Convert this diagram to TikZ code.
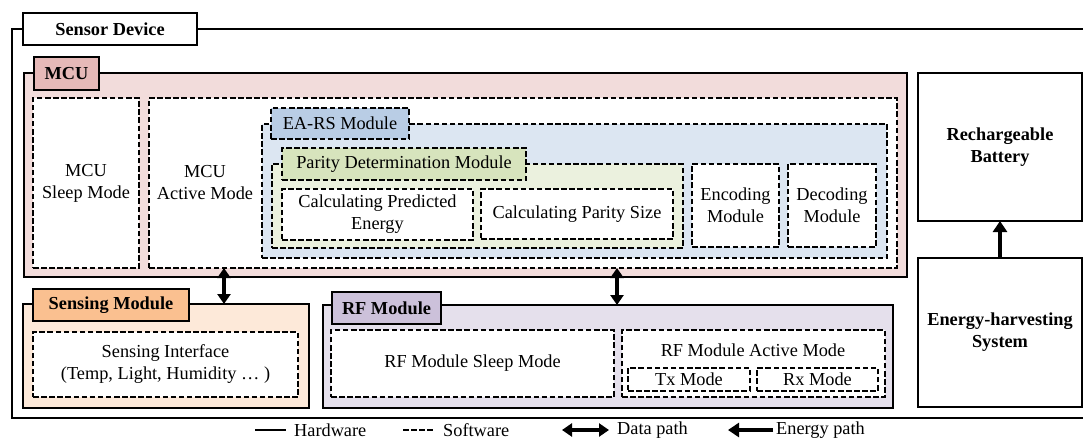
\documentclass[tikz,border=0pt]{standalone}
\usepackage{fontspec}
\setmainfont{Liberation Serif}
\usetikzlibrary{arrows.meta}
\definecolor{mcuF}{HTML}{F2DCDB}
\definecolor{mcuL}{HTML}{E6B9B8}
\definecolor{easF}{HTML}{DCE6F2}
\definecolor{easL}{HTML}{B9CDE5}
\definecolor{parF}{HTML}{EBF1DE}
\definecolor{parL}{HTML}{D7E4BD}
\definecolor{senF}{HTML}{FDE9D9}
\definecolor{senL}{HTML}{FAC090}
\definecolor{rfF}{HTML}{E5E0EC}
\definecolor{rfL}{HTML}{CCC1DA}
\newcommand\mybox[7]{%
 \pgfmathsetmacro\mbw{#4-#2}\pgfmathsetmacro\mbh{#5-#3}%
 \node[#6, anchor=north west, minimum width=\mbw pt, minimum height=\mbh pt] (#1) at (#2,#3) {#7};}
\begin{document}
\begin{tikzpicture}[x=1pt,y=-1pt, font=\fontsize{18.3}{22}\selectfont,
 hw/.style={draw=black, line width=2pt, inner sep=0pt, outer sep=0pt, align=center},
 sw/.style={draw=black, line width=2pt, dash pattern=on 5.5pt off 2.6pt, inner sep=0pt, outer sep=0pt, align=center},
 lbl/.style={font=\fontsize{18.3}{22}\selectfont\bfseries},
 txt/.style={align=center, inner sep=0pt},
 datap/.style={line width=3.5pt, {Triangle[length=10pt,width=13pt]}-{Triangle[length=10pt,width=13pt]}},
 energyp/.style={line width=4.5pt, -{Triangle[length=11pt,width=14pt]}}]
\useasboundingbox (0,0) rectangle (1083,441);
\fill[white] (0,0) rectangle (1083,441);
% device frame
\mybox{dev}{12}{29}{1095}{418}{hw}{}
\mybox{devL}{23}{13}{197}{45}{hw,fill=white,lbl}{Sensor Device}
% MCU
\mybox{mcu}{24}{73}{907}{277}{hw,fill=mcuF}{}
\mybox{mcuLb}{34}{57}{99}{90}{hw,fill=mcuL,lbl}{MCU}
\mybox{slp}{33}{98}{139}{268}{sw,fill=white}{MCU\\Sleep Mode}
\mybox{act}{149}{98}{897}{268}{sw,fill=white}{}
\node[txt] (actT) at (205,183) {MCU\\Active Mode};
\mybox{ears}{262}{124}{887}{258}{sw,fill=easF}{}
\mybox{earsL}{271}{108}{409}{139}{sw,fill=easL}{EA-RS Module}
\mybox{par}{272}{164}{683}{248}{sw,fill=parF}{}
\mybox{parLb}{282}{148}{526}{180}{sw,fill=parL}{Parity Determination Module}
\mybox{cpe}{282}{189}{473}{240}{sw,fill=white}{Calculating Predicted\\Energy}
\mybox{cps}{481}{189}{673}{239}{sw,fill=white}{Calculating Parity Size}
\mybox{enc}{692}{164}{779}{247}{sw,fill=white}{Encoding\\Module}
\mybox{dec}{788}{164}{876}{247}{sw,fill=white}{Decoding\\Module}
% Sensing
\mybox{sens}{23}{304}{309}{408}{hw,fill=senF}{}
\mybox{sensL}{33}{289}{189}{321}{hw,fill=senL,lbl}{Sensing Module}
\mybox{sint}{33}{332}{298}{397}{sw,fill=white}{Sensing Interface\\(Temp, Light, Humidity … )}
% RF
\mybox{rf}{323}{305}{893}{408}{hw,fill=rfF}{}
\mybox{rfLb}{332}{292}{441}{324}{hw,fill=rfL,lbl}{RF Module}
\mybox{rfs}{331}{330}{614}{397}{sw,fill=white}{RF Module Sleep Mode}
\mybox{rfa}{622}{330}{885}{397}{sw,fill=white}{}
\node[txt] (rfaT) at (753,350) {RF Module Active Mode};
\mybox{tx}{628}{368}{750}{391}{sw,fill=white}{Tx Mode}
\mybox{rx}{757}{368}{878}{391}{sw,fill=white}{Rx Mode}
% power
\mybox{bat}{918}{73}{1082}{221}{hw,fill=white,lbl}{Rechargeable\\Battery}
\mybox{eh}{918}{258}{1082}{407}{hw,fill=white,lbl}{Energy-harvesting\\System}
% connectors
\coordinate (dA) at (224,0);
\coordinate (dB) at (617,0);
\draw[datap] (act.south -| dA) -- (sens.north -| dA);
\draw[datap] (act.south -| dB) -- (rf.north -| dB);
\draw[energyp] (eh.north) -- (bat.south);
% legend
\coordinate (h1) at (255,430); \coordinate (h2) at (286,430);
\draw[line width=2pt] (h1) -- (h2);
\node[anchor=west, inner sep=0pt] (hT) at (294,430) {Hardware};
\coordinate (s1) at (403,430); \coordinate (s2) at (434,430);
\draw[line width=2pt, dash pattern=on 5.5pt off 2.6pt] (s1) -- (s2);
\node[anchor=west, inner sep=0pt] (sT) at (443,430) {Software};
\coordinate (d1) at (562,430); \coordinate (d2) at (609,430);
\draw[datap] (d1) -- (d2);
\node[anchor=west, inner sep=0pt] (dT) at (617,430) {Data path};
\coordinate (e1) at (773,430); \coordinate (e2) at (728,430);
\draw[energyp] (e1) -- (e2);
\node[anchor=west, inner sep=0pt] (eT) at (776,430) {Energy path};
\end{tikzpicture}
\end{document}
